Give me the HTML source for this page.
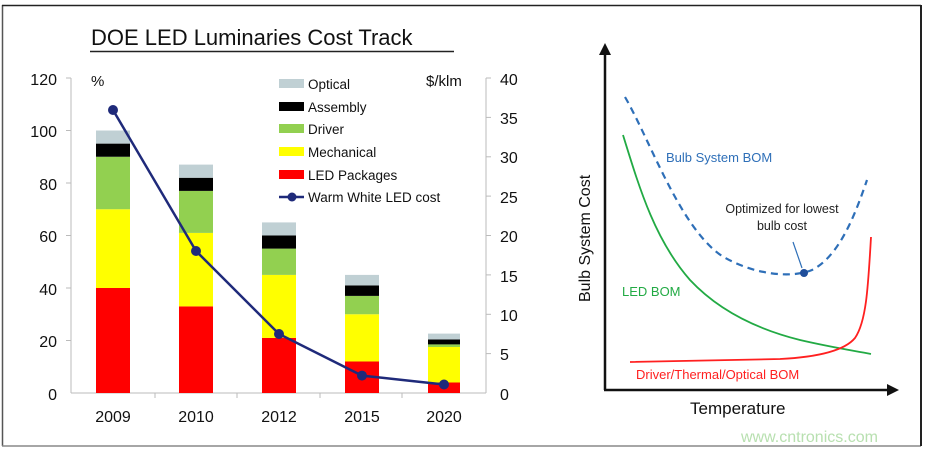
<!DOCTYPE html>
<html><head><style>
html,body{margin:0;padding:0;background:#fff;}
svg{display:block;font-family:"Liberation Sans",Arial,sans-serif;}
</style></head><body>
<svg width="925" height="451" viewBox="0 0 925 451">
<rect x="0" y="0" width="925" height="451" fill="#fff"/>
<line x1="2.5" y1="5" x2="2.5" y2="446" stroke="#555" stroke-width="1.5"/>
<line x1="2" y1="5.5" x2="921" y2="5.5" stroke="#222" stroke-width="1.5"/>
<line x1="2" y1="446" x2="921" y2="446" stroke="#888" stroke-width="1.5"/>
<line x1="921" y1="5" x2="921" y2="446" stroke="#222" stroke-width="2"/>

<text x="91" y="45" font-size="22" fill="#111">DOE LED Luminaries Cost Track</text>
<line x1="90" y1="51.5" x2="454" y2="51.5" stroke="#222" stroke-width="1.5"/>

<g stroke="#bbb" stroke-width="1">
<line x1="71" y1="78" x2="71" y2="393"/>
<line x1="71" y1="393" x2="486" y2="393"/>
<line x1="486" y1="78" x2="486" y2="393"/>
<line x1="66" y1="78" x2="71" y2="78"/><line x1="66" y1="130.5" x2="71" y2="130.5"/><line x1="66" y1="183" x2="71" y2="183"/><line x1="66" y1="235.5" x2="71" y2="235.5"/><line x1="66" y1="288" x2="71" y2="288"/><line x1="66" y1="340.5" x2="71" y2="340.5"/>
<line x1="486" y1="78" x2="491" y2="78"/><line x1="486" y1="117.4" x2="491" y2="117.4"/><line x1="486" y1="156.8" x2="491" y2="156.8"/><line x1="486" y1="196.1" x2="491" y2="196.1"/><line x1="486" y1="235.5" x2="491" y2="235.5"/><line x1="486" y1="274.9" x2="491" y2="274.9"/><line x1="486" y1="314.3" x2="491" y2="314.3"/><line x1="486" y1="353.6" x2="491" y2="353.6"/>
<line x1="155" y1="393" x2="155" y2="398"/><line x1="237" y1="393" x2="237" y2="398"/><line x1="320" y1="393" x2="320" y2="398"/><line x1="402" y1="393" x2="402" y2="398"/>
</g>
<g font-size="16" fill="#111" text-anchor="end">
<text x="57" y="85">120</text><text x="57" y="137">100</text><text x="57" y="190">80</text><text x="57" y="242">60</text><text x="57" y="295">40</text><text x="57" y="347">20</text><text x="57" y="400">0</text>
</g>
<g font-size="16" fill="#111">
<text x="500" y="85">40</text><text x="500" y="124">35</text><text x="500" y="163">30</text><text x="500" y="203">25</text><text x="500" y="242">20</text><text x="500" y="282">15</text><text x="500" y="321">10</text><text x="500" y="360">5</text><text x="500" y="400">0</text>
</g>
<g font-size="16" fill="#111" text-anchor="middle">
<text x="113" y="422">2009</text><text x="196" y="422">2010</text><text x="279" y="422">2012</text><text x="362" y="422">2015</text><text x="444" y="422">2020</text>
</g>
<text x="91" y="86" font-size="15" fill="#111">%</text>
<text x="426" y="86" font-size="15" fill="#111">$/klm</text>

<g>
<rect x="96" y="288" width="34" height="105" fill="#ff0000"/>
<rect x="96" y="209.25" width="34" height="78.75" fill="#ffff00"/>
<rect x="96" y="156.75" width="34" height="52.5" fill="#92d050"/>
<rect x="96" y="143.6" width="34" height="13.15" fill="#000"/>
<rect x="96" y="130.5" width="34" height="13.1" fill="#c0d0d4"/>

<rect x="179" y="306.4" width="34" height="86.6" fill="#ff0000"/>
<rect x="179" y="232.9" width="34" height="73.5" fill="#ffff00"/>
<rect x="179" y="190.9" width="34" height="42" fill="#92d050"/>
<rect x="179" y="177.75" width="34" height="13.15" fill="#000"/>
<rect x="179" y="164.6" width="34" height="13.15" fill="#c0d0d4"/>

<rect x="262" y="337.9" width="34" height="55.1" fill="#ff0000"/>
<rect x="262" y="274.9" width="34" height="63" fill="#ffff00"/>
<rect x="262" y="248.6" width="34" height="26.3" fill="#92d050"/>
<rect x="262" y="235.5" width="34" height="13.1" fill="#000"/>
<rect x="262" y="222.4" width="34" height="13.1" fill="#c0d0d4"/>

<rect x="345" y="361.5" width="34" height="31.5" fill="#ff0000"/>
<rect x="345" y="314.25" width="34" height="47.25" fill="#ffff00"/>
<rect x="345" y="295.9" width="34" height="18.35" fill="#92d050"/>
<rect x="345" y="285.4" width="34" height="10.5" fill="#000"/>
<rect x="345" y="274.9" width="34" height="10.5" fill="#c0d0d4"/>

<rect x="428" y="382.5" width="32" height="10.5" fill="#ff0000"/>
<rect x="428" y="347" width="32" height="35.5" fill="#ffff00"/>
<rect x="428" y="344.4" width="32" height="2.6" fill="#92d050"/>
<rect x="428" y="339.5" width="32" height="4.9" fill="#000"/>
<rect x="428" y="333.6" width="32" height="5.9" fill="#c0d0d4"/>
</g>
<polyline points="113,110 196,251 279,334 362,375.6 444,384.5" fill="none" stroke="#1f2a7a" stroke-width="2.5"/>
<g fill="#1f2a7a">
<circle cx="113" cy="110" r="5"/><circle cx="196" cy="251" r="5"/><circle cx="279" cy="334" r="5"/><circle cx="362" cy="375.6" r="5"/><circle cx="444" cy="384.5" r="5"/>
</g>

<rect x="279" y="79" width="25" height="9" fill="#c0d0d4"/>
<rect x="279" y="102" width="25" height="9" fill="#000"/>
<rect x="279" y="124" width="25" height="9" fill="#92d050"/>
<rect x="279" y="147" width="25" height="9" fill="#ffff00"/>
<rect x="279" y="170" width="25" height="9" fill="#ff0000"/>
<line x1="279" y1="197" x2="304" y2="197" stroke="#1f2a7a" stroke-width="2.5"/>
<circle cx="292" cy="197" r="4.5" fill="#1f2a7a"/>
<g font-size="13.5" fill="#111">
<text x="308" y="89">Optical</text><text x="308" y="112">Assembly</text><text x="308" y="134">Driver</text><text x="308" y="157">Mechanical</text><text x="308" y="180">LED Packages</text><text x="308" y="202">Warm White LED cost</text>
</g>

<line x1="605" y1="52" x2="605" y2="390" stroke="#111" stroke-width="2.5"/>
<polygon points="605,43 599,55 611,55" fill="#111"/>
<line x1="604" y1="390" x2="890" y2="390" stroke="#111" stroke-width="2.5"/>
<polygon points="899,390 887,384 887,396" fill="#111"/>
<text transform="translate(590,302) rotate(-90)" font-size="16" fill="#111">Bulb System Cost</text>
<text x="690" y="414" font-size="17" fill="#111">Temperature</text>

<path d="M625,97 C650,140 680,228 722,256 C752,274 790,279 812,270 C840,256 856,212 867,180" fill="none" stroke="#2e6fb8" stroke-width="2.2" stroke-dasharray="7,5"/>
<circle cx="804" cy="273" r="4" fill="#1f4e9a"/>
<line x1="793" y1="242" x2="802" y2="268" stroke="#2e6fb8" stroke-width="1.2"/>
<path d="M623,135 C640,190 655,240 690,280 C720,312 760,330 800,340 C830,347 850,350 871,354" fill="none" stroke="#22aa44" stroke-width="1.8"/>
<path d="M630,362 L780,359 C820,357 845,350 855,338 C866,322 868,290 871,237" fill="none" stroke="#ff2020" stroke-width="1.8"/>

<text x="666" y="162" font-size="13" fill="#2e6fb8">Bulb System BOM</text>
<text x="782" y="213" font-size="12.5" fill="#222" text-anchor="middle">Optimized for lowest</text>
<text x="782" y="230" font-size="12.5" fill="#222" text-anchor="middle">bulb cost</text>
<text x="622" y="296" font-size="13" fill="#22aa44">LED BOM</text>
<text x="636" y="379" font-size="13" fill="#ff2020">Driver/Thermal/Optical BOM</text>
<text x="741" y="442" font-size="16" fill="#b8e0b0">www.cntronics.com</text>
</svg>
</body></html>
